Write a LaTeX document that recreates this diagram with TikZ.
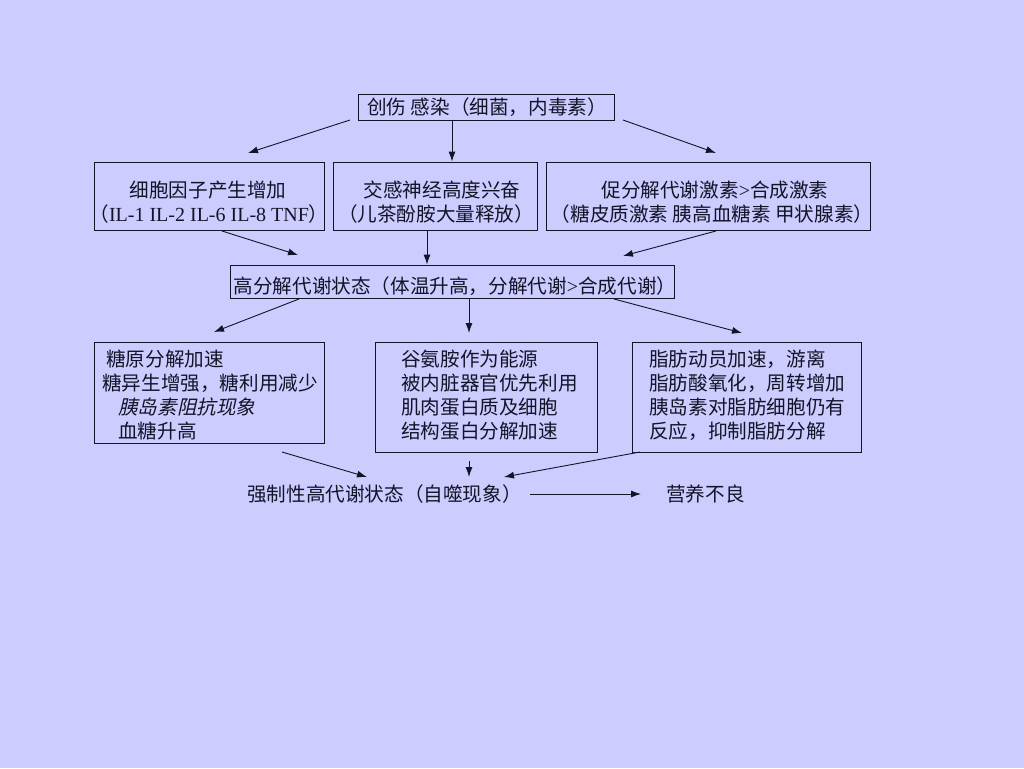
\documentclass[tikz,border=0pt]{standalone}
\usepackage{fontspec}
\setmainfont{Noto Sans CJK SC}
\newfontfamily\latf{Liberation Serif}
\newfontfamily\cjkit{Noto Sans CJK SC}[FakeSlant=0.22]
\usetikzlibrary{arrows.meta}
\definecolor{bg}{RGB}{204,204,255}
\definecolor{ink}{RGB}{20,20,40}
\begin{document}
\begin{tikzpicture}[x=1pt,y=-1pt,
  box/.style={draw=ink,line width=0.9pt,rectangle,inner sep=0pt},
  txt/.style={inner sep=0pt,text=ink,font=\fontsize{19.6}{24}\selectfont},
  ltxt/.style={txt,anchor=west},
  arr/.style={draw=ink,line width=0.9pt,-{Latex[length=10pt,width=7pt]}}]
\fill[bg] (0,0) rectangle (1024,768);
\useasboundingbox (0,0) rectangle (1024,768);

% boxes
\node[box,minimum width=256,minimum height=26] (top) at (486,107) {};
\node[box,minimum width=230,minimum height=68] (b1) at (209,196) {};
\node[box,minimum width=204,minimum height=68] (b2) at (435,196) {};
\node[box,minimum width=324,minimum height=68] (b3) at (708,196) {};
\node[box,minimum width=444,minimum height=33] (mid) at (452,281.5) {};
\node[box,minimum width=230,minimum height=101] (b4) at (209,392.5) {};
\node[box,minimum width=222,minimum height=110] (b5) at (486,397) {};
\node[box,minimum width=229,minimum height=110] (b6) at (746.5,397) {};

% texts
\node[txt] (ttop) at (487,107) {创伤 感染（细菌，内毒素）};
\node[txt] (t1a) at (208,190) {细胞因子产生增加};
\node[txt] (t1b) at (209,214) {（{\latf\fontsize{20}{24}\selectfont IL-1 IL-2 IL-6 IL-8 TNF}）};
\node[txt] (t2a) at (442,190) {交感神经高度兴奋};
\node[txt] (t2b) at (436,214) {（儿茶酚胺大量释放）};
\node[txt] (t3a) at (715,190) {促分解代谢激素{\latf\fontsize{20}{24}\selectfont >}合成激素};
\node[txt] (t3b) at (712,214) {（糖皮质激素 胰高血糖素 甲状腺素）};
\node[txt] (tmid) at (455,286) {高分解代谢状态（体温升高，分解代谢{\latf\fontsize{20}{24}\selectfont >}合成代谢）};

\node[ltxt] (t4a) at (106,359) {糖原分解加速};
\node[ltxt] (t4b) at (102,383) {糖异生增强，糖利用减少};
\node[ltxt] (t4c) at (118,407) {\cjkit 胰岛素阻抗现象};
\node[ltxt] (t4d) at (118,431) {血糖升高};

\node[ltxt] (t5a) at (401,359) {谷氨胺作为能源};
\node[ltxt] (t5b) at (401,383) {被内脏器官优先利用};
\node[ltxt] (t5c) at (401,407) {肌肉蛋白质及细胞};
\node[ltxt] (t5d) at (401,431) {结构蛋白分解加速};

\node[ltxt] (t6a) at (649,359) {脂肪动员加速，游离};
\node[ltxt] (t6b) at (649,383) {脂肪酸氧化，周转增加};
\node[ltxt] (t6c) at (649,407) {胰岛素对脂肪细胞仍有};
\node[ltxt] (t6d) at (649,431) {反应，抑制脂肪分解};

\node[ltxt] (bot) at (247,494) {强制性高代谢状态（自噬现象）};
\node[ltxt] (mal) at (666,494) {营养不良};

% arrow endpoints
\coordinate (a1s) at (350,120); \coordinate (a1e) at (248,153);
\coordinate (a3s) at (623,120); \coordinate (a3e) at (716,153);
\coordinate (c1s) at (222,231); \coordinate (c1e) at (298,255);
\coordinate (c3s) at (716,231); \coordinate (c3e) at (623,256);
\coordinate (d1s) at (299,299); \coordinate (d1e) at (214,332);
\coordinate (d2e) at (469,333);
\coordinate (d3s) at (614,299); \coordinate (d3e) at (742,333);
\coordinate (e1s) at (282,452); \coordinate (e1e) at (367,477);
\coordinate (e2s) at (469,461); \coordinate (e2e) at (469,477);
\coordinate (e3s) at (640,452); \coordinate (e3e) at (504,477);
\coordinate (fs) at (530,494); \coordinate (fe) at (641,494);

\draw[arr] (a1s) -- (a1e);
\draw[arr] (top.south -| 452,0) -- (b2.north -| 452,0);
\draw[arr] (a3s) -- (a3e);
\draw[arr] (c1s) -- (c1e);
\draw[arr] (b2.south -| 427,0) -- (mid.north -| 427,0);
\draw[arr] (c3s) -- (c3e);
\draw[arr] (d1s) -- (d1e);
\draw[arr] (mid.south -| d2e) -- (d2e);
\draw[arr] (d3s) -- (d3e);
\draw[arr] (e1s) -- (e1e);
\draw[arr] (e2s) -- (e2e);
\draw[arr] (e3s) -- (e3e);
\draw[arr] (fs) -- (fe);
\end{tikzpicture}
\end{document}
